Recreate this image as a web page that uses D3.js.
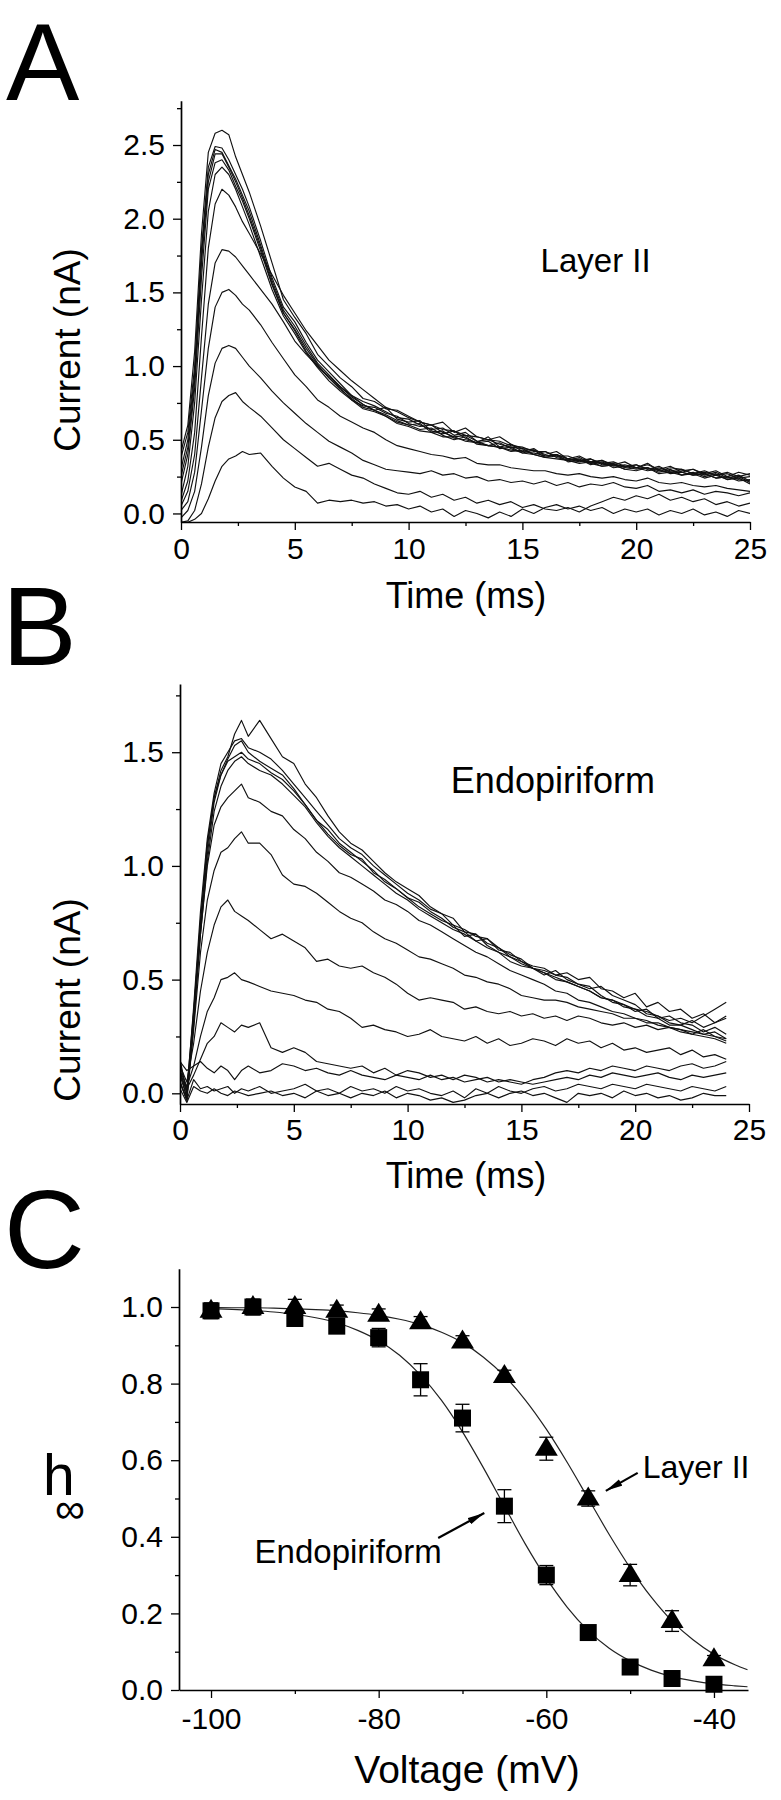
<!DOCTYPE html>
<html><head><meta charset="utf-8">
<script src="https://cdn.jsdelivr.net/npm/d3@7"></script>
<style>
html,body{margin:0;padding:0;background:#fff;}
svg{display:block;}
text{font-family:"Liberation Sans",Arial,Helvetica,sans-serif;fill:#000;}
</style></head><body>
<svg id="fig" width="781" height="1800"></svg>
<script>
// ---------------- DATA ----------------
const timeA = [0,0.3,0.6,0.9,1.2,1.5,1.8,2.1,2.4,2.7,3,3.5,4,4.5,5,5.5,6,6.5,7,7.5,8,8.5,9,9.5,10,10.5,11,11.5,12,12.5,13,13.5,14,14.5,15,15.5,16,16.5,17,17.5,18,18.5,19,19.5,20,20.5,21,21.5,22,22.5,23,23.5,24,24.5,25];
const tracesA = [
 [0.42,0.6,1.1,1.9,2.45,2.58,2.60,2.57,2.42,2.30,2.18, 1.95,1.70,1.45,1.33,1.22,1.08,1.0,0.92,0.86,0.78,0.76,0.71,0.70,0.66,0.62,0.60,0.62,0.55,0.58,0.52,0.50,0.52,0.47,0.44,0.43,0.40,0.42,0.37,0.39,0.35,0.36,0.33,0.35,0.31,0.33,0.30,0.32,0.28,0.30,0.27,0.29,0.25,0.28,0.26],
 [0.38,0.55,1.0,1.8,2.35,2.49,2.48,2.40,2.30,2.20,2.08, 1.85,1.60,1.40,1.30,1.16,1.04,0.96,0.88,0.80,0.76,0.73,0.69,0.65,0.64,0.60,0.57,0.58,0.53,0.55,0.49,0.50,0.47,0.45,0.44,0.40,0.42,0.38,0.36,0.38,0.34,0.36,0.32,0.33,0.31,0.34,0.29,0.31,0.30,0.27,0.29,0.26,0.28,0.25,0.27],
 [0.30,0.50,0.95,1.75,2.30,2.47,2.45,2.36,2.27,2.16,2.05, 1.82,1.58,1.38,1.27,1.14,1.02,0.94,0.86,0.79,0.74,0.70,0.72,0.64,0.62,0.63,0.56,0.54,0.56,0.51,0.48,0.52,0.45,0.47,0.42,0.44,0.39,0.40,0.37,0.35,0.37,0.33,0.34,0.31,0.33,0.30,0.32,0.28,0.29,0.30,0.26,0.28,0.24,0.26,0.22],
 [0.25,0.45,0.9,1.7,2.25,2.44,2.44,2.35,2.25,2.14,2.02, 1.80,1.56,1.36,1.25,1.12,1.01,0.92,0.85,0.77,0.73,0.72,0.68,0.66,0.61,0.59,0.60,0.55,0.52,0.53,0.49,0.46,0.48,0.44,0.41,0.43,0.38,0.39,0.36,0.37,0.33,0.35,0.31,0.32,0.30,0.31,0.28,0.30,0.26,0.28,0.25,0.27,0.23,0.25,0.21],
 [0.20,0.40,0.85,1.6,2.2,2.38,2.40,2.33,2.22,2.12,2.00, 1.78,1.55,1.36,1.24,1.10,1.00,0.92,0.84,0.78,0.72,0.70,0.67,0.63,0.60,0.61,0.55,0.56,0.51,0.50,0.48,0.49,0.44,0.45,0.41,0.40,0.38,0.40,0.35,0.36,0.34,0.32,0.33,0.30,0.31,0.29,0.30,0.27,0.28,0.26,0.27,0.24,0.25,0.22,0.23],
 [0.12,0.32,0.75,1.45,2.05,2.30,2.35,2.30,2.20,2.08,1.96, 1.74,1.52,1.34,1.22,1.09,0.99,0.90,0.83,0.77,0.71,0.69,0.66,0.62,0.60,0.57,0.58,0.53,0.50,0.52,0.47,0.46,0.45,0.42,0.43,0.40,0.38,0.37,0.36,0.34,0.35,0.32,0.33,0.30,0.29,0.31,0.27,0.28,0.26,0.27,0.24,0.26,0.23,0.24,0.20],
 [0.08,0.22,0.55,1.2,1.8,2.10,2.20,2.16,2.08,1.98,1.90, 1.76,1.62,1.48,1.36,1.24,1.14,1.04,0.97,0.90,0.84,0.78,0.72,0.69,0.65,0.62,0.60,0.57,0.56,0.53,0.52,0.50,0.49,0.46,0.45,0.42,0.42,0.39,0.39,0.36,0.37,0.34,0.35,0.32,0.33,0.30,0.31,0.29,0.30,0.27,0.28,0.26,0.27,0.24,0.25],
 [0.05,0.15,0.40,0.92,1.42,1.70,1.79,1.78,1.74,1.68,1.62, 1.52,1.42,1.30,1.17,1.08,1.00,0.93,0.86,0.80,0.74,0.70,0.66,0.61,0.59,0.56,0.55,0.52,0.52,0.49,0.48,0.46,0.45,0.43,0.42,0.41,0.39,0.40,0.37,0.36,0.35,0.34,0.33,0.32,0.31,0.31,0.29,0.28,0.28,0.26,0.27,0.24,0.25,0.23,0.22],
 [0.02,0.08,0.28,0.70,1.12,1.40,1.50,1.52,1.48,1.42,1.38, 1.28,1.16,1.05,0.94,0.86,0.77,0.72,0.66,0.62,0.58,0.55,0.50,0.46,0.44,0.42,0.40,0.39,0.37,0.38,0.34,0.33,0.33,0.31,0.30,0.29,0.29,0.27,0.26,0.27,0.25,0.24,0.25,0.23,0.22,0.24,0.21,0.20,0.21,0.19,0.18,0.19,0.17,0.16,0.15],
 [-0.03,0.02,0.15,0.45,0.80,1.02,1.12,1.14,1.12,1.06,1.00, 0.92,0.83,0.75,0.68,0.61,0.55,0.49,0.45,0.41,0.36,0.33,0.30,0.29,0.28,0.27,0.29,0.26,0.27,0.24,0.25,0.22,0.23,0.21,0.22,0.20,0.22,0.19,0.21,0.18,0.20,0.19,0.21,0.18,0.17,0.19,0.15,0.16,0.14,0.16,0.13,0.15,0.14,0.12,0.14],
 [-0.06,-0.05,0.02,0.20,0.45,0.65,0.76,0.80,0.82,0.76,0.72, 0.66,0.58,0.50,0.44,0.38,0.32,0.34,0.30,0.26,0.24,0.20,0.17,0.14,0.13,0.15,0.11,0.13,0.09,0.11,0.07,0.09,0.06,0.08,0.04,0.06,0.03,0.02,0.04,0.01,0.05,0.08,0.11,0.09,0.12,0.10,0.13,0.09,0.11,0.08,0.10,0.06,0.08,0.05,0.07],
 [-0.06,-0.06,-0.04,0.00,0.10,0.22,0.32,0.37,0.39,0.42,0.40, 0.41,0.32,0.24,0.18,0.15,0.07,0.09,0.08,0.09,0.07,0.08,0.05,0.06,0.03,0.05,0.01,0.03,-0.02,0.02,0.00,-0.03,0.01,-0.02,0.03,0.00,0.04,0.06,0.03,0.05,0.02,0.04,0.00,0.03,0.01,0.03,-0.01,0.02,0.00,0.03,-0.01,0.01,-0.02,0.02,0.00]
];

const timeB = [0,0.3,0.6,0.9,1.2,1.5,1.8,2.1,2.4,2.7,3,3.5,4,4.5,5,5.5,6,6.5,7,7.5,8,8.5,9,9.5,10,10.5,11,11.5,12,12.5,13,13.5,14,14.5,15,15.5,16,16.5,17,17.5,18,18.5,19,19.5,20,20.5,21,21.5,22,22.5,23,23.5,24];
const tracesB = [
 [0.10,-0.02,0.35,0.75,1.08,1.30,1.42,1.48,1.58,1.64,1.57, 1.64,1.56,1.48,1.45,1.36,1.30,1.22,1.15,1.10,1.07,1.02,0.97,0.93,0.90,0.87,0.82,0.79,0.77,0.71,0.70,0.66,0.64,0.60,0.58,0.55,0.53,0.51,0.49,0.47,0.45,0.42,0.41,0.39,0.37,0.36,0.34,0.32,0.33,0.31,0.34,0.37,0.40],
 [0.15,0.00,0.38,0.80,1.12,1.32,1.45,1.50,1.55,1.56,1.52, 1.50,1.47,1.42,1.36,1.30,1.24,1.18,1.12,1.08,1.05,1.00,0.96,0.92,0.88,0.85,0.81,0.79,0.74,0.72,0.69,0.68,0.63,0.62,0.58,0.56,0.55,0.52,0.53,0.50,0.51,0.46,0.45,0.42,0.44,0.38,0.40,0.36,0.37,0.33,0.35,0.31,0.33],
 [0.05,-0.03,0.33,0.72,1.05,1.28,1.40,1.47,1.53,1.55,1.50, 1.46,1.43,1.40,1.34,1.27,1.20,1.16,1.10,1.06,1.02,0.98,0.93,0.90,0.86,0.82,0.79,0.76,0.74,0.69,0.70,0.65,0.62,0.60,0.57,0.55,0.52,0.54,0.50,0.48,0.47,0.43,0.40,0.39,0.36,0.37,0.33,0.34,0.31,0.30,0.27,0.29,0.26],
 [0.12,0.02,0.36,0.76,1.10,1.30,1.40,1.46,1.48,1.50,1.47, 1.45,1.41,1.38,1.33,1.27,1.20,1.14,1.09,1.05,1.03,0.97,0.94,0.90,0.86,0.84,0.80,0.77,0.73,0.71,0.67,0.68,0.64,0.61,0.59,0.55,0.54,0.52,0.51,0.48,0.46,0.47,0.43,0.41,0.39,0.35,0.34,0.31,0.30,0.32,0.29,0.31,0.34],
 [0.08,-0.02,0.30,0.70,1.02,1.24,1.35,1.42,1.46,1.48,1.45, 1.42,1.40,1.36,1.31,1.26,1.19,1.13,1.08,1.04,1.00,0.96,0.92,0.88,0.85,0.81,0.78,0.75,0.72,0.70,0.67,0.64,0.62,0.58,0.56,0.55,0.53,0.50,0.49,0.47,0.45,0.42,0.41,0.38,0.37,0.34,0.33,0.30,0.30,0.28,0.26,0.27,0.24],
 [0.10,0.00,0.32,0.70,1.00,1.18,1.26,1.30,1.33,1.36,1.30, 1.28,1.24,1.22,1.16,1.12,1.06,1.02,0.97,0.95,0.92,0.89,0.85,0.83,0.80,0.76,0.74,0.71,0.68,0.65,0.62,0.60,0.57,0.54,0.52,0.50,0.48,0.45,0.44,0.41,0.40,0.38,0.36,0.35,0.33,0.32,0.30,0.29,0.28,0.26,0.25,0.24,0.22],
 [0.05,-0.03,0.28,0.62,0.85,0.98,1.06,1.08,1.12,1.15,1.10, 1.10,1.05,0.96,0.92,0.91,0.88,0.84,0.80,0.77,0.75,0.71,0.68,0.66,0.63,0.60,0.59,0.57,0.55,0.52,0.51,0.49,0.48,0.46,0.43,0.42,0.41,0.41,0.40,0.38,0.37,0.36,0.35,0.33,0.33,0.31,0.31,0.29,0.28,0.27,0.26,0.25,0.23],
 [0.12,0.05,0.22,0.45,0.62,0.74,0.82,0.85,0.80,0.78,0.76, 0.72,0.68,0.70,0.67,0.64,0.58,0.59,0.56,0.55,0.56,0.53,0.51,0.48,0.44,0.41,0.42,0.41,0.40,0.37,0.38,0.36,0.35,0.36,0.34,0.35,0.33,0.34,0.32,0.34,0.33,0.31,0.30,0.31,0.29,0.30,0.28,0.29,0.27,0.26,0.28,0.25,0.24],
 [0.10,0.03,0.12,0.25,0.36,0.42,0.50,0.51,0.53,0.50,0.49, 0.47,0.45,0.44,0.43,0.41,0.40,0.37,0.36,0.33,0.29,0.30,0.28,0.27,0.25,0.26,0.28,0.25,0.24,0.23,0.25,0.22,0.24,0.21,0.22,0.24,0.23,0.21,0.24,0.22,0.23,0.20,0.22,0.19,0.20,0.18,0.19,0.20,0.17,0.19,0.16,0.17,0.15],
 [0.08,0.02,0.08,0.15,0.22,0.25,0.31,0.29,0.27,0.30,0.29, 0.31,0.20,0.18,0.20,0.18,0.14,0.13,0.12,0.11,0.12,0.09,0.11,0.08,0.10,0.09,0.07,0.08,0.06,0.08,0.07,0.05,0.06,0.05,0.04,0.06,0.07,0.09,0.10,0.09,0.11,0.10,0.12,0.11,0.10,0.12,0.11,0.10,0.12,0.13,0.11,0.12,0.14],
 [0.14,0.10,0.12,0.14,0.11,0.09,0.12,0.10,0.06,0.10,0.12, 0.09,0.10,0.13,0.12,0.10,0.11,0.09,0.08,0.10,0.08,0.07,0.06,0.08,0.07,0.06,0.08,0.06,0.07,0.05,0.06,0.07,0.05,0.06,0.05,0.04,0.05,0.06,0.07,0.06,0.08,0.07,0.09,0.08,0.07,0.08,0.09,0.07,0.06,0.08,0.07,0.08,0.09],
 [0.05,-0.03,0.06,0.02,0.03,0.01,0.02,0.03,0.00,0.02,0.01, 0.03,0.00,0.01,0.02,0.04,0.01,0.02,0.00,0.03,0.01,0.02,0.00,0.03,0.01,0.02,0.00,-0.01,0.01,-0.02,0.02,0.00,0.03,0.01,0.00,0.02,0.03,0.01,0.02,0.04,0.03,0.02,0.04,0.03,0.02,0.04,0.03,0.02,0.01,0.03,0.02,0.01,0.03],
 [0.02,-0.04,0.03,0.01,0.00,0.02,0.00,-0.01,0.01,0.00,-0.01, 0.00,0.01,-0.01,0.00,-0.02,0.01,-0.01,0.00,-0.02,0.00,-0.01,0.01,-0.02,0.00,-0.01,-0.03,-0.02,-0.04,-0.03,-0.01,0.00,-0.02,0.00,0.01,-0.01,0.00,-0.02,-0.04,0.00,-0.01,0.00,-0.02,0.01,-0.01,0.00,-0.02,-0.01,-0.03,-0.02,0.00,-0.01,-0.01]
];

const voltage = [-100,-95,-90,-85,-80,-75,-70,-65,-60,-55,-50,-45,-40];
const hEndo   = [0.99,1.00,0.97,0.95,0.92,0.81,0.71,0.48,0.30,0.15,0.06,0.03,0.015];
const errEndo = [0.02,0.02,0.015,0.015,0.024,0.042,0.036,0.043,0.025,0.01,0.01,0.01,0.005];
const hLayer  = [0.99,1.00,1.00,0.99,0.98,0.96,0.91,0.82,0.63,0.50,0.30,0.18,0.08];
const errLayer= [0.02,0.02,0.02,0.015,0.015,0.015,0.015,0.015,0.03,0.02,0.028,0.027,0.01];
const fitV      = [-100,-97.5,-95,-92.5,-90,-87.5,-85,-82.5,-80,-77.5,-75,-72.5,-70,-67.5,-65,-62.5,-60,-57.5,-55,-52.5,-50,-47.5,-45,-42.5,-40,-37.5,-36];
const fitLayer  = [0.999,0.998,0.998,0.997,0.995,0.993,0.990,0.985,0.978,0.968,0.954,0.934,0.907,0.869,0.820,0.757,0.681,0.594,0.500,0.406,0.319,0.243,0.180,0.131,0.093,0.066,0.053];
const fitEndo   = [0.996,0.994,0.991,0.987,0.981,0.972,0.959,0.939,0.912,0.874,0.822,0.756,0.674,0.580,0.480,0.381,0.292,0.216,0.155,0.109,0.076,0.052,0.035,0.024,0.016,0.011,0.0085];

const tickTimeMajor = [0,5,10,15,20,25];
const tickTimeMinor = [2.5,7.5,12.5,17.5,22.5];
const tickCurA = [0,0.5,1.0,1.5,2.0,2.5];
const tickCurAminor = [0.25,0.75,1.25,1.75,2.25,2.75];
const tickCurB = [0,0.5,1.0,1.5];
const tickCurBminor = [0.25,0.75,1.25,1.75];
const tickH = [0,0.2,0.4,0.6,0.8,1.0];
const tickHminor = [0.1,0.3,0.5,0.7,0.9];
const tickV = [-100,-80,-60,-40];
const tickVminor = [-90,-70,-50];

// ---------------- DRAW ----------------
const svg = d3.select('#fig');
const defs = svg.append('defs');
defs.append('marker').attr('id','arr').attr('viewBox','0 0 24 10').attr('refX',24).attr('refY',5)
  .attr('markerWidth',17).attr('markerHeight',8).attr('markerUnits','userSpaceOnUse').attr('orient','auto')
  .append('path').attr('d','M0,0 L24,5 L0,10 Z').attr('fill','#000');

const plainInt = d => String(d);   // keeps the ASCII hyphen-minus like the reference

function drawAxes(g, x, y, o) {
  g.append('g').attr('transform',`translate(0,${y.range()[0]})`)
    .call(d3.axisBottom(x).tickValues(o.xMajor).tickSize(8).tickSizeOuter(0).tickPadding(o.xPad).tickFormat(plainInt));
  g.append('g').attr('transform',`translate(0,${y.range()[0]})`)
    .call(d3.axisBottom(x).tickValues(o.xMinor).tickSize(4).tickSizeOuter(0).tickFormat(''))
    .select('.domain').remove();
  g.append('g').attr('transform',`translate(${x.range()[0]},0)`)
    .call(d3.axisLeft(y).tickValues(o.yMajor).tickSize(8).tickSizeOuter(0).tickPadding(8).tickFormat(d3.format('.1f')));
  g.append('g').attr('transform',`translate(${x.range()[0]},0)`)
    .call(d3.axisLeft(y).tickValues(o.yMinor).tickSize(4).tickSizeOuter(0).tickFormat(''))
    .select('.domain').remove();
  g.selectAll('.domain').attr('stroke','#000').attr('stroke-width',1.7);
  g.selectAll('.tick line').attr('stroke','#000').attr('stroke-width',1.3);
  g.selectAll('.tick text').attr('font-size',30).attr('font-family','"Liberation Sans",Arial,sans-serif').attr('fill','#000');
}

function tracePanel(o) {
  const g = svg.append('g');
  const x = d3.scaleLinear().domain([0,25]).range(o.xr);
  const y = d3.scaleLinear().domain(o.yd).range(o.yr);
  const cid = 'clip'+o.id;
  defs.append('clipPath').attr('id',cid).append('rect')
    .attr('x',o.xr[0]).attr('y',o.yr[1]).attr('width',o.xr[1]-o.xr[0]).attr('height',o.yr[0]-o.yr[1]);
  const line = d3.line().x((d,i)=>x(o.time[i])).y(d=>y(d));
  g.append('g').attr('clip-path',`url(#${cid})`).selectAll('path').data(o.traces).join('path')
    .attr('d',line).attr('fill','none').attr('stroke','#111').attr('stroke-width',1.15).attr('stroke-linejoin','round');
  drawAxes(g,x,y,{xMajor:tickTimeMajor,xMinor:tickTimeMinor,yMajor:o.yMajor,yMinor:o.yMinor,xPad:o.xPad});
  return {g,x,y};
}

// Panel A
const A = tracePanel({id:'A',time:timeA,traces:tracesA,xr:[181,750],yd:[-0.058,2.80],yr:[522,100.8],yMajor:tickCurA,yMinor:tickCurAminor,xPad:8});
// Panel B
const B = tracePanel({id:'B',time:timeB,traces:tracesB,xr:[180,749],yd:[-0.047,1.80],yr:[1104,684],yMajor:tickCurB,yMinor:tickCurBminor,xPad:7});

// Panel C
const gC = svg.append('g');
const xC = d3.scaleLinear().domain([-103.82,-35.94]).range([179,748]);
const yC = d3.scaleLinear().domain([0,1.1]).range([1690,1268.7]);
const fitLine = d3.line().x((d,i)=>xC(fitV[i])).y(d=>yC(d)).curve(d3.curveMonotoneX);
[fitLayer, fitEndo].forEach(f => gC.append('path').attr('d',fitLine(f)).attr('fill','none').attr('stroke','#222').attr('stroke-width',1.2));
function errBars(vals, errs) {
  const eg = gC.append('g').attr('stroke','#000').attr('stroke-width',1.3);
  voltage.forEach((v,i)=>{
    const cx = xC(v), y1 = yC(vals[i]+errs[i]), y2 = yC(vals[i]-errs[i]);
    eg.append('line').attr('x1',cx).attr('x2',cx).attr('y1',y1).attr('y2',y2);
    eg.append('line').attr('x1',cx-7).attr('x2',cx+7).attr('y1',y1).attr('y2',y1);
    eg.append('line').attr('x1',cx-7).attr('x2',cx+7).attr('y1',y2).attr('y2',y2);
  });
}
errBars(hLayer, errLayer);
errBars(hEndo, errEndo);
gC.append('g').selectAll('path').data(hLayer).join('path')
  .attr('d',(d,i)=>{const cx=xC(voltage[i]), cy=yC(d); return `M${cx},${cy-12} L${cx+11.5},${cy+7} L${cx-11.5},${cy+7} Z`;})
  .attr('fill','#000');
gC.append('g').selectAll('rect').data(hEndo).join('rect')
  .attr('x',(d,i)=>xC(voltage[i])-8.5).attr('y',d=>yC(d)-8.5).attr('width',17).attr('height',17).attr('fill','#000');
drawAxes(gC,xC,yC,{xMajor:tickV,xMinor:tickVminor,yMajor:tickH,yMinor:tickHminor,xPad:10});

// annotations C
gC.append('text').attr('x',xC(-48.5)).attr('y',yC(0.553)).attr('font-size',32).text('Layer II');
gC.append('line').attr('x1',xC(-49.1)).attr('y1',yC(0.567)).attr('x2',xC(-52.9)).attr('y2',yC(0.52))
  .attr('stroke','#000').attr('stroke-width',2.2).attr('marker-end','url(#arr)');
gC.append('text').attr('x',xC(-94.8)).attr('y',yC(0.332)).attr('font-size',33).text('Endopiriform');
gC.append('line').attr('x1',xC(-72.9)).attr('y1',yC(0.397)).attr('x2',xC(-67.4)).attr('y2',yC(0.462))
  .attr('stroke','#000').attr('stroke-width',2.2).attr('marker-end','url(#arr)');

// labels inside plots
A.g.append('text').attr('x',A.x(15.8)).attr('y',A.y(1.64)).attr('font-size',33).text('Layer II');
B.g.append('text').attr('x',B.x(11.9)).attr('y',B.y(1.32)).attr('font-size',36).text('Endopiriform');

// axis titles
svg.append('text').attr('x',466).attr('y',608).attr('text-anchor','middle').attr('font-size',36).text('Time (ms)');
svg.append('text').attr('x',466).attr('y',1188).attr('text-anchor','middle').attr('font-size',36).text('Time (ms)');
svg.append('text').attr('x',467).attr('y',1783).attr('text-anchor','middle').attr('font-size',39).text('Voltage (mV)');
svg.append('text').attr('transform','translate(80,350) rotate(-90)').attr('text-anchor','middle').attr('font-size',37).text('Current (nA)');
svg.append('text').attr('transform','translate(80,1000) rotate(-90)').attr('text-anchor','middle').attr('font-size',37).text('Current (nA)');
const hLab = svg.append('text').attr('x',43).attr('y',1495).attr('font-size',57);
hLab.append('tspan').text('h');
hLab.append('tspan').attr('x',55).attr('dy',28).attr('font-size',42).text('\u221E');

// big panel letters
svg.append('text').attr('x',6).attr('y',100).attr('font-size',110).text('A');
svg.append('text').attr('x',2).attr('y',665).attr('font-size',112).text('B');
svg.append('text').attr('x',4).attr('y',1268).attr('font-size',112).text('C');
</script>
</body></html>
